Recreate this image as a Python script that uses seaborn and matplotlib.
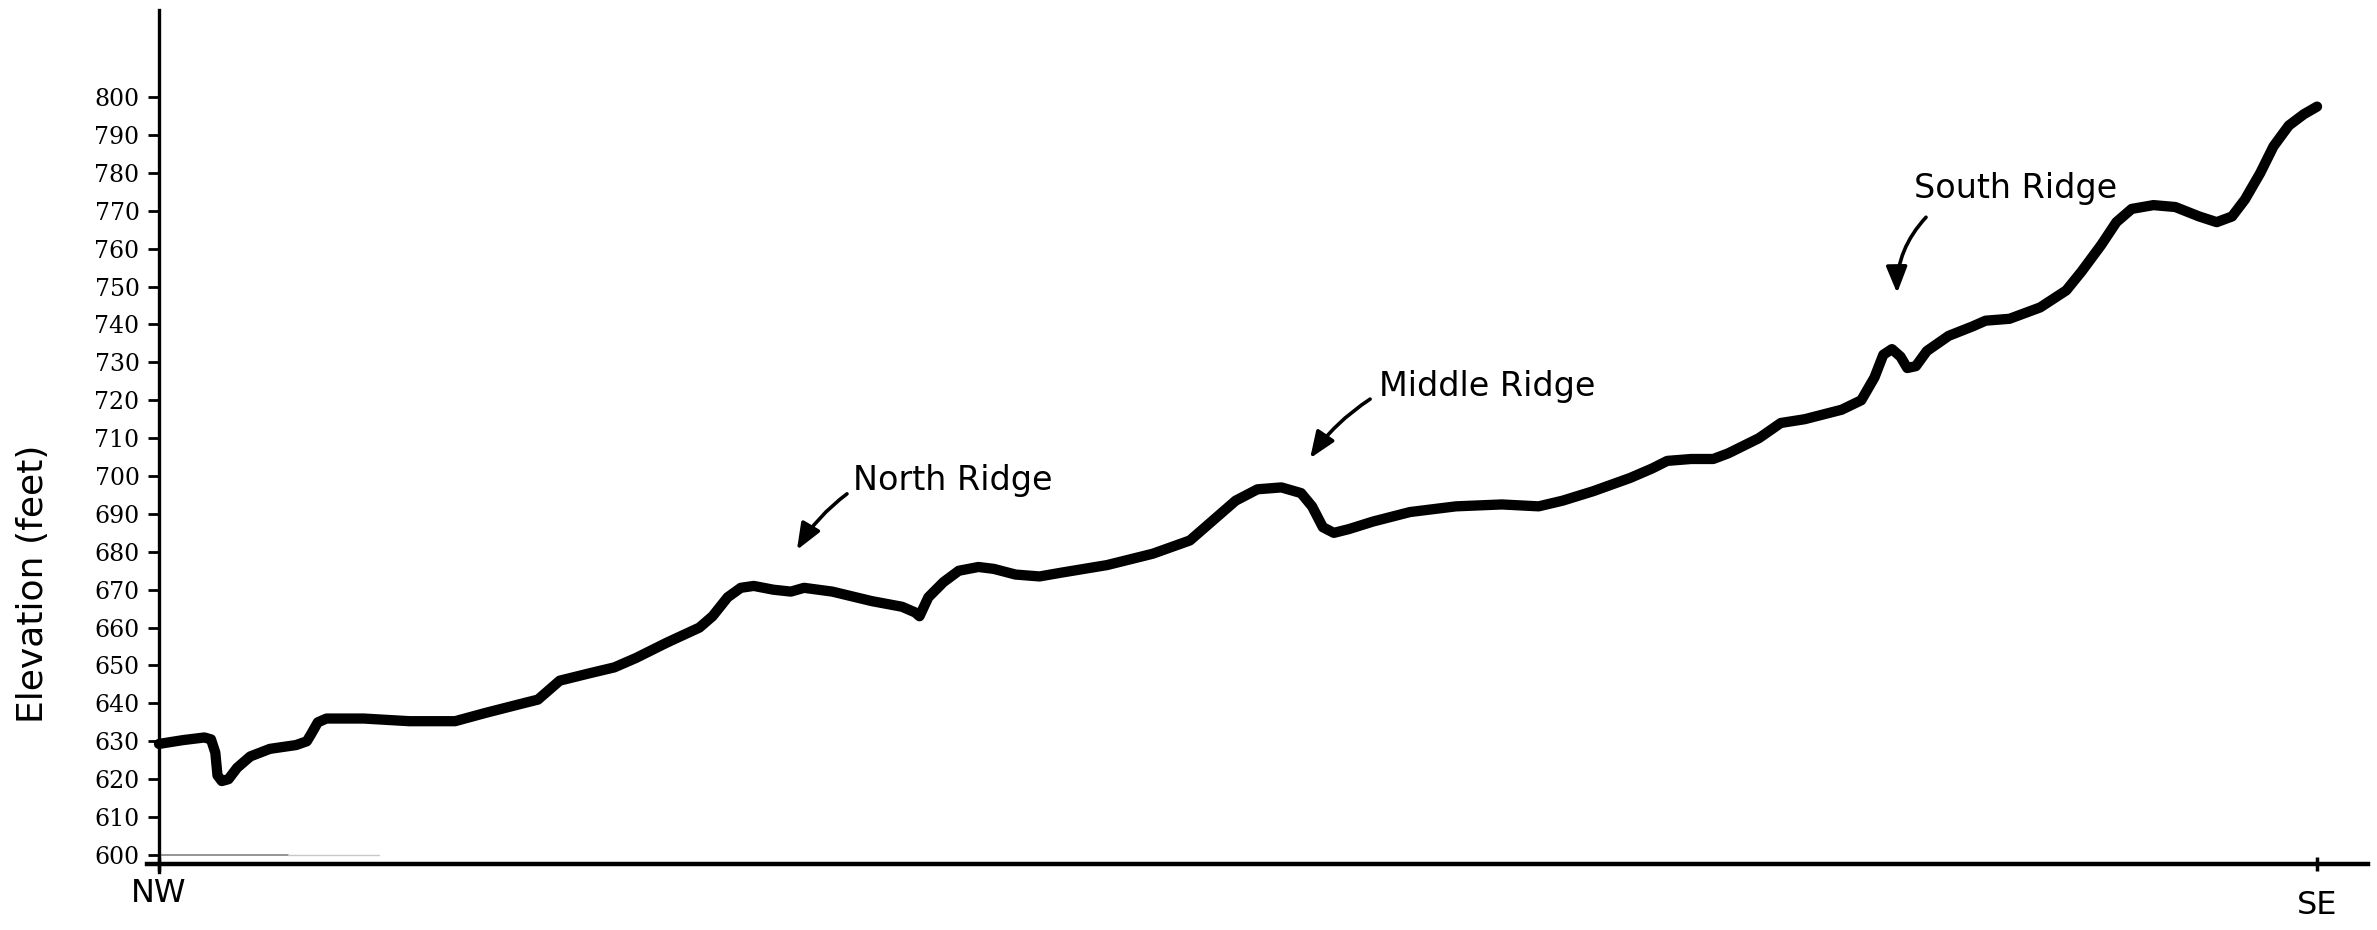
import matplotlib
matplotlib.use('Agg')
import matplotlib.pyplot as plt
from matplotlib import font_manager
from matplotlib.transforms import ScaledTranslation
import seaborn as sns

# Elevation profile along the transect, NW (0) to SE (100)
distance = [0.0, 1.1, 2.1, 2.41, 2.61, 2.71, 2.91, 3.22, 3.62, 4.23, 5.14, 6.35, 6.85, 7.06, 7.36, 7.76,
            9.48, 11.6, 13.72, 15.14, 16.86, 17.56, 18.57, 19.99, 21.1, 22.11, 23.52, 25.04, 25.65,
            26.35, 26.96, 27.56, 28.47, 29.28, 29.89, 31.2, 33.02, 34.43, 35.04, 35.24, 35.65, 36.35,
            37.06, 37.97, 38.68, 39.69, 40.8, 41.81, 43.93, 46.05, 47.77, 48.78, 49.89, 50.9, 52.01,
            52.92, 53.43, 53.93, 54.44, 55.14, 56.26, 57.97, 60.1, 62.22, 63.93, 65.04, 66.46, 68.17,
            69.19, 69.89, 71.0, 72.02, 72.72, 74.14, 75.15, 76.26, 77.97, 78.88, 79.49, 79.9, 80.3,
            80.7, 81.01, 81.41, 81.92, 82.93, 84.04, 84.64, 85.75, 87.17, 88.38, 89.09, 90.0, 90.7,
            91.41, 92.42, 93.43, 94.54, 95.35, 96.06, 96.66, 97.37, 97.98, 98.69, 99.39, 100.0]
elevation = [629.3, 630.3, 631.0, 630.5, 627.0, 621.0, 619.5, 620.0, 623.0, 626.0, 628.0,
             629.0, 630.0, 632.0, 635.0, 636.0, 636.0, 635.3, 635.3, 637.5, 640.0, 641.0, 646.0,
             648.0, 649.5, 652.0, 656.0, 660.0, 663.0, 668.0, 670.5, 671.0, 670.0, 669.5, 670.5,
             669.5, 667.0, 665.5, 664.0, 663.0, 668.0, 672.0, 675.0, 676.0, 675.5, 674.0, 673.5,
             674.5, 676.5, 679.5, 683.0, 688.0, 693.5, 696.5, 697.0, 695.5, 692.0, 686.5, 685.0,
             686.0, 688.0, 690.5, 692.0, 692.5, 692.0, 693.5, 696.0, 699.5, 702.0, 704.0, 704.5,
             704.5, 706.0, 710.0, 714.0, 715.0, 717.5, 720.0, 726.0, 732.0, 733.5, 731.5, 728.5,
             729.0, 733.0, 737.0, 739.5, 741.0, 741.5, 744.5, 749.0, 754.0, 761.0, 767.0, 770.5,
             771.5, 771.0, 768.5, 767.0, 768.5, 773.0, 780.0, 787.0, 792.5, 795.5, 797.5]

ridge_names = ['North Ridge', 'Middle Ridge', 'South Ridge']
ytick_values = list(range(600, 801, 10))
xtick_values = [0, 100]
xtick_labels = ['NW', 'SE']

sns.set_style('white')
names = {f.name for f in font_manager.fontManager.ttflist}
narrow = 'Liberation Sans Narrow' if 'Liberation Sans Narrow' in names else 'DejaVu Sans'
plt.rcParams['font.family'] = ['DejaVu Sans']

fig = plt.figure(figsize=(23.77, 9.30), dpi=100)
ax = fig.add_axes([0.06184, 0.06237, 0.93437, 0.9269])

sns.lineplot(x=distance, y=elevation, ax=ax, color='black', linewidth=7.4,
             solid_capstyle='round', solid_joinstyle='round')

# faint baseline trace near the 600 ft tick
ax.plot([0, 6.0], [600, 600], color='#8c8c8c', linewidth=1.3)
ax.plot([6.0, 10.2], [600, 600], color='#c8c8c8', linewidth=1.0)

ax.set_xlim(-0.556, 102.36)
ax.set_ylim(595.5, 823.0)

for s in ['top', 'right']:
    ax.spines[s].set_visible(False)
ax.spines['left'].set_position(('data', 0))
ax.spines['bottom'].set_position(('data', 597.6))
ax.spines['left'].set_linewidth(2.4)
ax.spines['bottom'].set_linewidth(3.2)
ax.spines['left'].set_color('black')
ax.spines['bottom'].set_color('black')

ax.set_yticks(ytick_values)
ax.set_yticklabels([str(v) for v in ytick_values], family='DejaVu Serif', fontsize=17)
ax.tick_params(axis='y', direction='out', length=8, width=2, pad=6, colors='black', left=True)

ax.set_xticks(xtick_values)
ax.set_xticklabels(xtick_labels, family=narrow, fontsize=26 if narrow != 'DejaVu Sans' else 23)
ax.tick_params(axis='x', direction='inout', length=10, width=2.5, pad=5, colors='black', bottom=True)
se_label = ax.get_xticklabels()[1]
se_label.set_transform(se_label.get_transform() + ScaledTranslation(0, -0.12, fig.dpi_scale_trans))

ax.set_ylabel('Elevation (feet)', fontsize=26, color='black')
ax.yaxis.label.set_va('center')
ax.yaxis.set_label_coords(-0.0513, 0.334)

# ridge labels and arrows (data coordinates)
label_pos = [(32.16, 698.7), (56.53, 723.7), (81.33, 776.0)]
arrow_tail = [(31.88, 695.3), (56.12, 720.3), (81.88, 768.3)]
arrow_head = [(29.56, 680.5), (53.34, 704.7), (80.54, 748.3)]
arrow_rad = [0.1, 0.1, 0.2]

for name, (tx, ty), tail, head, rad in zip(ridge_names, label_pos, arrow_tail, arrow_head, arrow_rad):
    ax.text(tx, ty, name, fontsize=24, ha='left', va='center', color='black')
    ax.annotate('', xy=head, xytext=tail,
                arrowprops=dict(arrowstyle='-|>,head_length=0.8,head_width=0.32',
                                mutation_scale=20, color='black', lw=2.6,
                                shrinkA=0, shrinkB=0,
                                connectionstyle='arc3,rad=%s' % rad))

fig.savefig('out.png', dpi=100, facecolor='white')
